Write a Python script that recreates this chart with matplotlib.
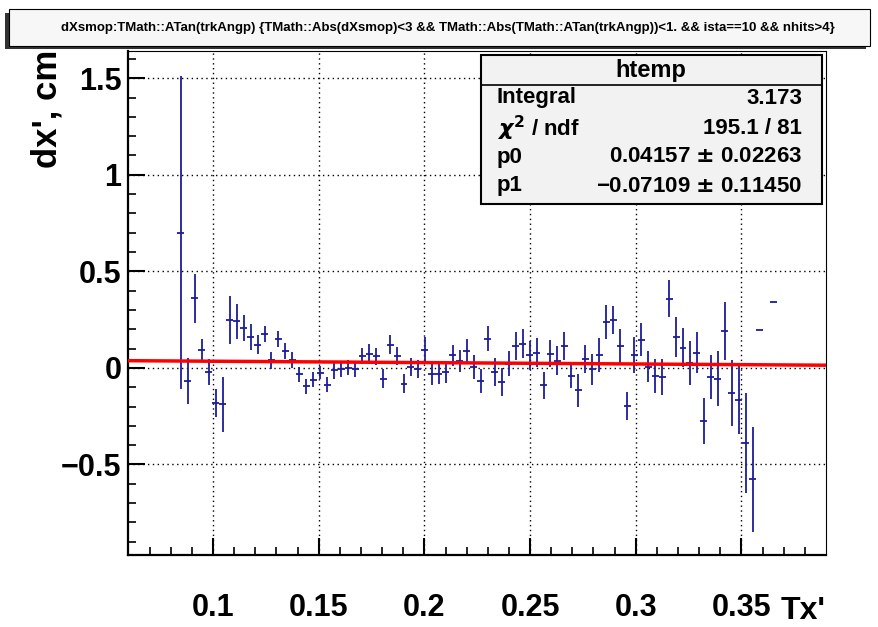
import numpy as np
import matplotlib
matplotlib.use("Agg")
import matplotlib.pyplot as plt
from matplotlib.patches import Rectangle

# TProfile of dXsmop vs atan(trkAngp), bins that have entries
tx = [0.08475, 0.08805, 0.09135, 0.09465, 0.09795, 0.10125, 0.10455, 0.10785, 0.11115, 0.11445,
      0.11775, 0.12105, 0.12435, 0.12765, 0.13095, 0.13425, 0.13755, 0.14085, 0.14415, 0.14745,
      0.15075, 0.15405, 0.15735, 0.16065, 0.16395, 0.16725, 0.17055, 0.17385, 0.17715, 0.18045,
      0.18375, 0.18705, 0.19035, 0.19365, 0.19695, 0.20025, 0.20355, 0.20685, 0.21015, 0.21345,
      0.21675, 0.22005, 0.22335, 0.22665, 0.22995, 0.23325, 0.23655, 0.23985, 0.24315, 0.24645,
      0.24975, 0.25305, 0.25635, 0.25965, 0.26295, 0.26625, 0.26955, 0.27285, 0.27615, 0.27945,
      0.28275, 0.28605, 0.28935, 0.29265, 0.29595, 0.29925, 0.30255, 0.30585, 0.30915, 0.31245,
      0.31575, 0.31905, 0.32235, 0.32565, 0.32895, 0.33225, 0.33555, 0.33885, 0.34215, 0.34545,
      0.34875, 0.35205, 0.35535, 0.35865, 0.36525]
dx_mean = [0.700, -0.068, 0.360, 0.091, -0.021, -0.181, -0.188, 0.246, 0.241, 0.206,
           0.160, 0.120, 0.174, 0.039, 0.151, 0.088, 0.041, -0.034, -0.095, -0.061,
           -0.024, -0.087, -0.012, -0.007, 0.000, -0.007, 0.062, 0.074, 0.060, -0.055,
           0.120, 0.060, -0.081, 0.005, -0.004, 0.091, -0.033, -0.030, -0.021, 0.065,
           0.036, 0.086, 0.005, -0.068, 0.151, -0.021, -0.073, 0.022, 0.113, 0.126,
           0.065, 0.079, -0.090, 0.074, 0.037, 0.112, -0.042, -0.116, 0.045, -0.007,
           0.065, 0.237, 0.246, 0.112, -0.197, 0.065, 0.146, 0.005, -0.043, -0.047,
           0.358, 0.160, 0.105, 0.025, 0.079, -0.276, -0.047, -0.055, 0.191, -0.130,
           -0.168, -0.390, -0.578, 0.198, 0.339]
dx_err = [0.810, 0.120, 0.128, 0.057, 0.069, 0.071, 0.143, 0.124, 0.091, 0.068,
          0.065, 0.049, 0.041, 0.043, 0.041, 0.041, 0.040, 0.040, 0.039, 0.039,
          0.034, 0.039, 0.043, 0.040, 0.039, 0.042, 0.041, 0.051, 0.045, 0.047,
          0.050, 0.047, 0.048, 0.048, 0.046, 0.069, 0.054, 0.056, 0.059, 0.056,
          0.059, 0.062, 0.063, 0.060, 0.066, 0.072, 0.071, 0.063, 0.073, 0.076,
          0.075, 0.076, 0.071, 0.069, 0.075, 0.073, 0.060, 0.085, 0.074, 0.080,
          0.088, 0.087, 0.073, 0.088, 0.074, 0.094, 0.086, 0.080, 0.088, 0.093,
          0.097, 0.102, 0.102, 0.115, 0.105, 0.119, 0.115, 0.144, 0.149, 0.171,
          0.176, 0.260, 0.274, 0.0, 0.0]
bin_width = 0.0033

# pol1 fit results
p0, p0_err = 0.04157, 0.02263
p1, p1_err = -0.07109, 0.11450
chi2, ndf = 195.1, 81
integral = 3.173

xticks = [0.1, 0.15, 0.2, 0.25, 0.3, 0.35]
xtick_labels = ["0.1", "0.15", "0.2", "0.25", "0.3", "0.35"]
yticks = [-0.5, 0, 0.5, 1, 1.5]
ytick_labels = ["\u22120.5", "0", "0.5", "1", "1.5"]

title = ("dXsmop:TMath::ATan(trkAngp) {TMath::Abs(dXsmop)<3 && "
         "TMath::Abs(TMath::ATan(trkAngp))<1. && ista==10 && nhits>4}")

plt.rcParams["font.family"] = ["Liberation Sans", "DejaVu Sans"]
plt.rcParams["font.weight"] = "bold"

W, H = 879, 627
fig = plt.figure(figsize=(W / 100, H / 100), dpi=100)
ax = fig.add_axes([128.5 / W, 1 - 555 / H, (826 - 128.5) / W, (555 - 51) / H])

ax.errorbar(tx, dx_mean, yerr=dx_err, xerr=bin_width / 2, fmt="none",
            ecolor="#1c1c98", elinewidth=1.3, capsize=0, zorder=3)

xfit = np.array([0.06, 0.39])
ax.plot(xfit, p0 + p1 * xfit, color="red", lw=2.5, zorder=4)

ax.set_xlim(0.06, 0.39)
ax.set_ylim(-0.969, 1.641)
ax.set_xticks(xticks, xtick_labels)
ax.set_yticks(yticks, ytick_labels)
ax.set_xticks(np.arange(0.07, 0.39, 0.01), minor=True)
ax.set_yticks(np.arange(-0.9, 1.65, 0.1), minor=True)
ax.tick_params(which="both", direction="in", top=False, right=False, labelsize=22)
ax.tick_params(which="major", length=12.5, width=1.5)
ax.tick_params(which="minor", length=6, width=1.2)
ax.tick_params(axis="x", pad=27)
ax.tick_params(axis="y", pad=5)
ax.grid(True, which="major", color="black", lw=1.0, ls=(0, (1, 2.5)))
for side in ("left", "bottom"):
    ax.spines[side].set_linewidth(1.6)
for side in ("top", "right"):
    ax.spines[side].set_linewidth(0.8)

fig.text(826 / W, 1 - 611 / H, "Tx'", fontsize=23, ha="right", va="center")
fig.text(47 / W, 1 - 50 / H, "dx', cm", fontsize=25, rotation=90, ha="center", va="top")


def px_rect(x0, y0, x1, y1, **kw):
    return Rectangle((x0 / W, 1 - y1 / H), (x1 - x0) / W, (y1 - y0) / H,
                     transform=fig.transFigure, **kw)


# title pave with shadow
fig.patches.append(px_rect(5, 13, 866, 49, facecolor="#333333", edgecolor="none"))
fig.patches.append(px_rect(9, 9, 870, 46, facecolor="#f7f7f7", edgecolor="black", lw=0.8))
fig.text(448 / W, 1 - 28 / H, title, fontsize=9.5, ha="center", va="center")

# stats box
fig.patches.append(px_rect(481, 55, 822, 204, facecolor="#f2f2f2", edgecolor="black",
                           lw=1.5, zorder=5))
fig.add_artist(plt.Line2D([481 / W, 822 / W], [1 - 85 / H, 1 - 85 / H],
                          transform=fig.transFigure, color="black", lw=1.2, zorder=6))
fig.text(651 / W, 1 - 70 / H, "htemp", fontsize=17, ha="center", va="center", zorder=6)
rows = [
    ("Integral", f"{integral:.3f}"),
    (r"$\chi^{2}$ / ndf", f"{chi2:.1f} / {ndf}"),
    ("p0", f"{p0:.5f} $\\pm$ {p0_err:.5f}"),
    ("p1", f"\u2212{abs(p1):.5f} $\\pm$ {p1_err:.5f}"),
]
row_y = [98, 128, 157, 186]
for (name, val), y in zip(rows, row_y):
    fig.text(497 / W, 1 - y / H, name, fontsize=16, ha="left", va="center", zorder=6)
    fig.text(802 / W, 1 - y / H, val, fontsize=16, ha="right", va="center", zorder=6)

fig.savefig("out.png", dpi=100)
